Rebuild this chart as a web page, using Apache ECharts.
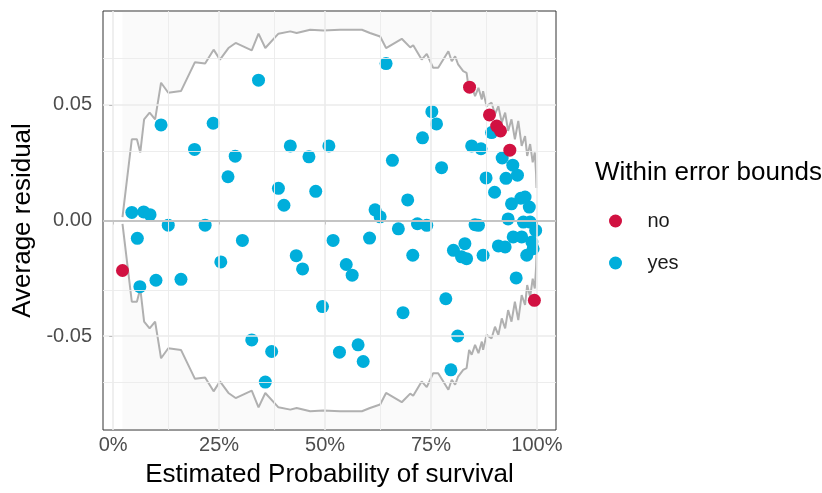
<!DOCTYPE html>
<html>
<head>
<meta charset="utf-8">
<script src="https://cdn.jsdelivr.net/npm/echarts@6/dist/echarts.min.js"></script>
<style>
html, body { margin: 0; padding: 0; background: #fff; }
#chart { width: 822px; height: 493px; }
</style>
</head>
<body>
<div id="chart"></div>
<script>
// axis breaks
var xTicks = [0, 0.25, 0.5, 0.75, 1];
var xMinor = [0.125, 0.375, 0.625, 0.875];
var yTicks = [-0.05, 0, 0.05];
var yMinor = [-0.075, -0.025, 0.025, 0.075];

// error bounds (+/- se) per bin
var envX = [0.022, 0.044, 0.056, 0.064, 0.073, 0.086, 0.099, 0.113, 0.130, 0.160, 0.193, 0.217, 0.237, 0.252, 0.272, 0.289, 0.327, 0.343, 0.359, 0.390, 0.418, 0.433, 0.465, 0.496, 0.535, 0.587, 0.606, 0.630, 0.644, 0.681, 0.701, 0.708, 0.728, 0.740, 0.755, 0.767, 0.791, 0.799, 0.807, 0.814, 0.826, 0.834, 0.840, 0.846, 0.854, 0.862, 0.870, 0.873, 0.881, 0.893, 0.901, 0.909, 0.917, 0.925, 0.932, 0.940, 0.948, 0.956, 0.964, 0.972, 0.977, 0.984, 0.990, 0.995, 0.998, 0.999];
var envSe = [0.0015, 0.0351, 0.0351, 0.0294, 0.0437, 0.0466, 0.0437, 0.0595, 0.0552, 0.0559, 0.0684, 0.0678, 0.0738, 0.0695, 0.0745, 0.0767, 0.0735, 0.0807, 0.0745, 0.0807, 0.0817, 0.0810, 0.0824, 0.0821, 0.0824, 0.0824, 0.0810, 0.0795, 0.0745, 0.0785, 0.0748, 0.0757, 0.0695, 0.0720, 0.0660, 0.0660, 0.0731, 0.0688, 0.0709, 0.0674, 0.0645, 0.0638, 0.0559, 0.0580, 0.0537, 0.0573, 0.0523, 0.0559, 0.0494, 0.0509, 0.0459, 0.0494, 0.0423, 0.0466, 0.0387, 0.0437, 0.0351, 0.0430, 0.0322, 0.0365, 0.0279, 0.0330, 0.0251, 0.0294, 0.0201, 0.0140];

// bins outside the bounds ("no")
var noX = [0.022, 0.841, 0.888, 0.905, 0.914, 0.936, 0.994];
var noY = [-0.0216, 0.0576, 0.0456, 0.0408, 0.0387, 0.0304, -0.0345];

// bins inside the bounds ("yes")
var yesX = [0.044, 0.072, 0.087, 0.057, 0.063, 0.101, 0.113, 0.130, 0.160, 0.192, 0.217, 0.236, 0.254, 0.271, 0.288, 0.305, 0.327, 0.343, 0.359, 0.374, 0.390, 0.403, 0.418, 0.432, 0.447, 0.462, 0.478, 0.494, 0.509, 0.519, 0.534, 0.550, 0.564, 0.578, 0.590, 0.605, 0.618, 0.630, 0.644, 0.659, 0.673, 0.684, 0.695, 0.718, 0.740, 0.707, 0.730, 0.752, 0.763, 0.775, 0.785, 0.797, 0.813, 0.803, 0.830, 0.822, 0.834, 0.854, 0.862, 0.846, 0.868, 0.873, 0.880, 0.893, 0.900, 0.909, 0.925, 0.918, 0.927, 0.932, 0.943, 0.954, 0.940, 0.962, 0.972, 0.982, 0.944, 0.964, 0.976, 0.991, 0.997, 0.968, 0.984, 0.951, 0.988];
var yesY = [0.0035, 0.0037, 0.0025, -0.0077, -0.0286, -0.0258, 0.0413, -0.0020, -0.0254, 0.0307, -0.0020, 0.0420, -0.0179, 0.0189, 0.0278, -0.0086, -0.0516, 0.0606, -0.0698, -0.0566, 0.0139, 0.0066, 0.0322, -0.0152, -0.0209, 0.0275, 0.0126, -0.0372, 0.0322, -0.0086, -0.0569, -0.0190, -0.0236, -0.0537, -0.0609, -0.0076, 0.0046, 0.0016, 0.0678, 0.0260, -0.0036, -0.0398, 0.0089, -0.0014, -0.0021, -0.0150, 0.0357, 0.0470, 0.0417, 0.0228, -0.0338, -0.0645, -0.0499, -0.0129, -0.0100, -0.0157, -0.0165, -0.0018, -0.0021, 0.0322, 0.0310, -0.0150, 0.0184, 0.0380, 0.0122, -0.0110, -0.0114, 0.0270, 0.0182, 0.0007, 0.0239, 0.0196, 0.0072, 0.0096, 0.0101, 0.0058, -0.0071, -0.0071, -0.0150, -0.0122, -0.0043, -0.0007, -0.0007, -0.0248, -0.0093];

var FONT = "'Liberation Sans', Arial, sans-serif";
var chart = echarts.init(document.getElementById("chart"));

function zip(xs, ys) {
    return xs.map(function (x, i) { return [x, ys[i]]; });
}

var upper = envX.map(function (x, i) { return [x, envSe[i]]; });
var lower = envX.map(function (x, i) { return [x, -envSe[i]]; });

var gridLines = [];
xTicks.forEach(function (v) { gridLines.push({ xAxis: v, lineStyle: { color: "#ebebeb", width: 1.6, type: "solid" } }); });
xMinor.forEach(function (v) { gridLines.push({ xAxis: v, lineStyle: { color: "#ebebeb", width: 0.9, type: "solid" } }); });
yTicks.forEach(function (v) { gridLines.push({ yAxis: v, lineStyle: { color: "#ebebeb", width: 1.6, type: "solid" } }); });
yMinor.forEach(function (v) { gridLines.push({ yAxis: v, lineStyle: { color: "#ebebeb", width: 0.9, type: "solid" } }); });

chart.setOption({
    animation: false,
    title: {
        text: "Within error bounds",
        left: 595,
        top: 160,
        padding: 0,
        textStyle: { fontFamily: FONT, fontSize: 26, fontWeight: "normal", color: "#000" }
    },
    legend: {
        data: ["no", "yes"],
        orient: "vertical",
        left: 609,
        top: 211,
        itemWidth: 54,
        itemHeight: 13,
        itemGap: 22,
        icon: "circle",
        padding: 0,
        textStyle: { fontFamily: FONT, fontSize: 20, color: "#1a1a1a" }
    },
    grid: {
        left: 103,
        right: 266,
        top: 11,
        bottom: 62,
        show: true,
        backgroundColor: "#fff",
        borderColor: "#333",
        borderWidth: 1
    },
    xAxis: {
        type: "value",
        min: -0.024,
        max: 1.045,
        name: "Estimated Probability of survival",
        nameLocation: "middle",
        nameGap: 32,
        nameTextStyle: { fontFamily: FONT, fontSize: 26, color: "#000" },
        axisLine: { show: false },
        splitLine: { show: false },
        axisTick: { show: true, customValues: xTicks, length: 4, lineStyle: { color: "#333", width: 1 } },
        axisLabel: {
            customValues: xTicks,
            margin: 5,
            fontFamily: FONT,
            fontSize: 20,
            color: "#4d4d4d",
            formatter: function (v) { return Math.round(v * 100) + "%"; }
        }
    },
    yAxis: {
        type: "value",
        min: -0.0905,
        max: 0.0905,
        name: "Average residual",
        nameLocation: "middle",
        nameGap: 65,
        nameTextStyle: { fontFamily: FONT, fontSize: 26, color: "#000" },
        axisLine: { show: false },
        splitLine: { show: false },
        axisTick: { show: true, customValues: yTicks, length: 4, lineStyle: { color: "#333", width: 1 } },
        axisLabel: {
            customValues: yTicks,
            margin: 11,
            fontFamily: FONT,
            fontSize: 20,
            color: "#4d4d4d",
            formatter: function (v) { return v.toFixed(2); }
        }
    },
    series: [
        {
            name: "grid",
            type: "line",
            z: 1,
            silent: true,
            symbol: "none",
            data: [[0, 0]],
            lineStyle: { width: 0 },
            markLine: {
                silent: true,
                symbol: "none",
                label: { show: false },
                data: gridLines
            }
        },
        {
            name: "upperBand",
            type: "line",
            z: 2,
            silent: true,
            symbol: "none",
            data: upper,
            lineStyle: { width: 0 },
            areaStyle: { origin: "end", color: "rgba(179,179,179,0.1)" }
        },
        {
            name: "lowerBand",
            type: "line",
            z: 2,
            silent: true,
            symbol: "none",
            data: lower,
            lineStyle: { width: 0 },
            areaStyle: { origin: "start", color: "rgba(179,179,179,0.1)" },
            markLine: {
                silent: true,
                symbol: "none",
                label: { show: false },
                data: [{ yAxis: 0, lineStyle: { color: "#c4c4c4", width: 1.8, type: "solid" } }]
            }
        },
        {
            name: "upperLine",
            type: "line",
            z: 3,
            silent: true,
            symbol: "none",
            data: upper,
            lineStyle: { color: "#b0b0b0", width: 2 }
        },
        {
            name: "lowerLine",
            type: "line",
            z: 3,
            silent: true,
            symbol: "none",
            data: lower,
            lineStyle: { color: "#b0b0b0", width: 2 }
        },
        {
            name: "no",
            type: "scatter",
            z: 5,
            symbol: "circle",
            symbolSize: 13,
            itemStyle: { color: "#d11141", opacity: 1 },
            data: zip(noX, noY)
        },
        {
            name: "yes",
            type: "scatter",
            z: 4,
            symbol: "circle",
            symbolSize: 13,
            itemStyle: { color: "#00aedb", opacity: 1 },
            data: zip(yesX, yesY)
        }
    ]
});
</script>
</body>
</html>
